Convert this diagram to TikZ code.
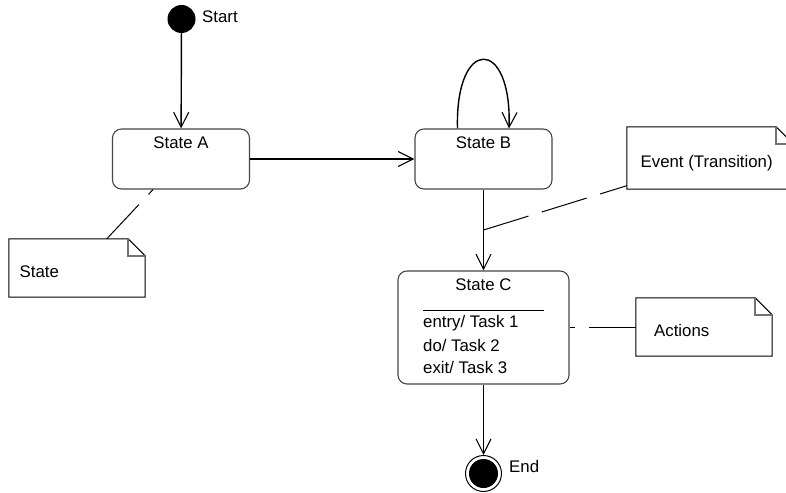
\documentclass[tikz,border=0pt]{standalone}
\usepackage{fontspec}
\setmainfont{Liberation Sans}
\usetikzlibrary{arrows.meta,calc}
\begin{document}
\begin{tikzpicture}[x=1pt,y=-1pt,
  every node/.style={font=\fontsize{16.8}{20}\selectfont, inner sep=0pt},
  statebox/.style={rectangle, draw=black!72, line width=1.1pt, rounded corners=9pt},
  trans/.style={line width=1.4pt, -{Straight Barb[length=15pt,width=15pt,line width=1.1pt]}},
  notelink/.style={line width=1pt, dash pattern=on 47pt off 14pt},
  notebody/.style={draw=black, line width=1pt},
  notefold/.style={draw=black!55, line width=1.6pt},
  pseudo/.style={circle, fill=black, draw=none},
]
\useasboundingbox (0,0) rectangle (786,492);
\clip (0,0) rectangle (786,492);

% pseudo states
\node[pseudo, minimum size=28pt] (start) at (181.5,19) {};
\node[anchor=west] (startlbl) at (202,17) {Start};
\node[circle, draw=black, line width=1pt, minimum size=36pt] (end) at (483.5,473.5) {};
\node[pseudo, minimum size=29pt] (endin) at (end.center) {};
\node[anchor=west] (endlbl) at (509,466) {End};

% states
\node[statebox, minimum width=137pt, minimum height=60pt] (A) at (181,159) {};
\node (Atxt) at (181,143) {State A};
\node[statebox, minimum width=137pt, minimum height=60pt] (B) at (483.5,159) {};
\node (Btxt) at (483.5,143) {State B};
\node[statebox, minimum width=171pt, minimum height=113pt] (C) at (483.5,327.5) {};
\node (Ctxt) at (483.5,285) {State C};
\draw[line width=1pt] (423,310) -- (544,310);
\node[anchor=west] (Centry) at (423,323) {entry/ Task 1};
\node[anchor=west] (Cdo) at (423,345) {do/ Task 2};
\node[anchor=west] (Cexit) at (423,367) {exit/ Task 3};

% transitions
\draw[trans] (start) -- (A);
\draw[trans] (A) -- (B);
\draw[trans] ($(B.north)+(-26,0)$) .. controls ($(B.north)+(-28.5,-92)$) and ($(B.north)+(28.5,-92)$) .. ($(B.north)+(25.5,0)$);
\draw[trans] (B) -- (C);
\draw[trans] (C) -- (end);

% notes with folded corner
\newcommand{\umlnote}[1]{%
  \draw[notebody] (#1.north west) -- ($(#1.north east)+(-17,0)$) -- ($(#1.north east)+(0,17)$)
    -- (#1.south east) -- (#1.south west) -- cycle;
  \draw[notefold] ($(#1.north east)+(-17,0)$) -- ($(#1.north east)+(-17,17)$) -- ($(#1.north east)+(0,17)$);
}
\node[minimum width=136pt, minimum height=58pt] (nS) at (77,268) {};
\umlnote{nS}
\node[anchor=west] (nStxt) at (19.5,272) {State};

\node[minimum width=166pt, minimum height=62pt] (nE) at (710,158) {};
\umlnote{nE}
\node[anchor=west] (nEtxt) at (640.5,163) {Event (Transition)};

\node[minimum width=136pt, minimum height=58pt] (nA) at (704,327) {};
\umlnote{nA}
\node[anchor=west] (nAtxt) at (654,330.5) {Actions};

% note links
\coordinate (Aanchor) at ($(A.south)+(-28,0)$);
\draw[notelink] ($(nS.north west)+(98,0)$) -- (Aanchor);
\coordinate (evj) at ($(B.south)!0.5!(C.north)$);
\draw[notelink] (evj) -- ($(nE.south west)+(0,-3.5)$);
\draw[notelink] (nA.west) -- (nA.west -| C.east);
\end{tikzpicture}
\end{document}
